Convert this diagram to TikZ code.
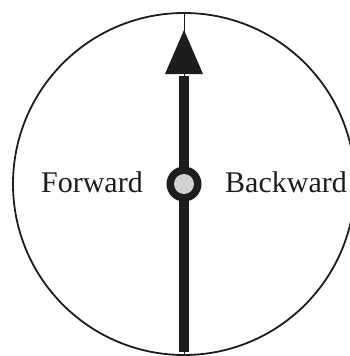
\documentclass[tikz,border=0pt]{standalone}
\usepackage{fontspec}
\setmainfont{Liberation Serif}
\definecolor{hubgray}{RGB}{208,210,211}
\definecolor{ink}{RGB}{30,28,29}
\begin{document}
\begin{tikzpicture}[x=1pt,y=-1pt,
  rim/.style={draw=ink,line width=1.8pt},
  thin/.style={draw=ink,line width=0.9pt},
  shaft/.style={draw=ink,line width=10pt},
  label/.style={font=\fontsize{30}{36}\selectfont,text=ink,inner sep=0pt}]
\useasboundingbox (0,0) rectangle (349,356);
\node[rim,circle,minimum size=342pt,inner sep=0pt] (dial) at (184,184) {};
\coordinate (top) at (184,13);
\coordinate (bot) at (184,356);
\coordinate (tip) at (184,30);
\coordinate (hl) at (165,74);
\coordinate (hr) at (203,74);
\coordinate (base) at (184,76);
\coordinate (shaftend) at (184,352);
\draw[thin] (top) -- (bot);
\draw[shaft] (shaftend) -- (base);
\fill[ink] (tip) -- (hr) -- (hl) -- cycle;
\node[circle,fill=ink,minimum size=35pt,inner sep=0pt] (hub) at (184,184) {};
\node[circle,fill=hubgray,minimum size=20pt,inner sep=0pt] (pin) at (hub) {};
\node[label,anchor=base east] (fwd) at (143,192) {Forward};
\node[label,anchor=base west] (bwd) at (225,192) {Backward};
\end{tikzpicture}
\end{document}
